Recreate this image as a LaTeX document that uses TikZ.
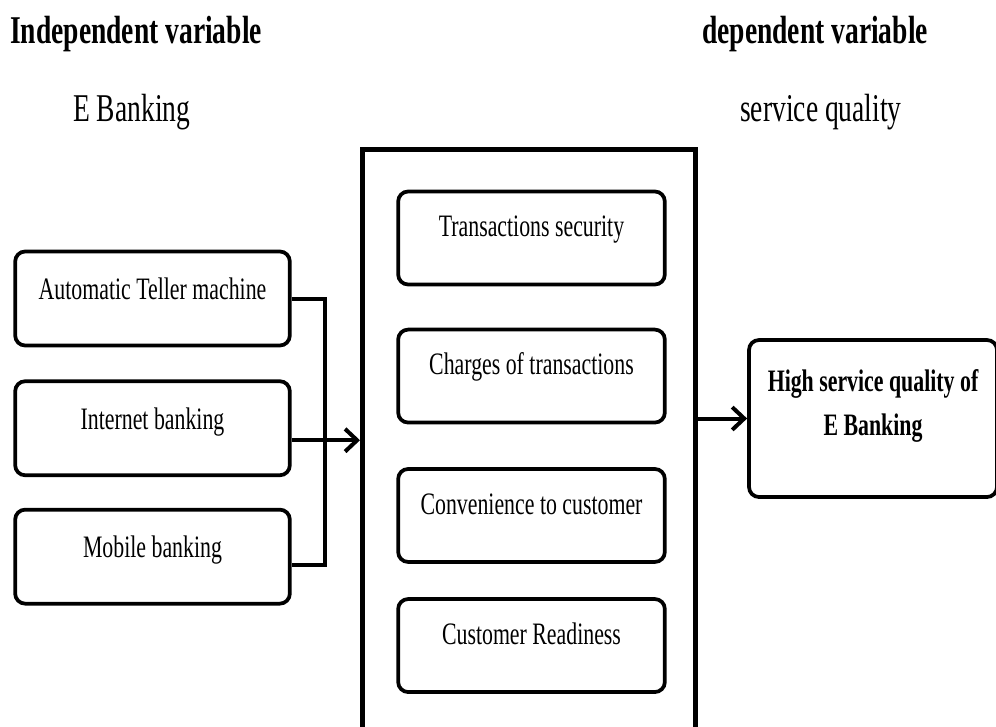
\documentclass[tikz,border=0pt]{standalone}
\usepackage{fontspec}
\setmainfont{Liberation Serif}[FakeStretch=0.70]
\usepackage{xcolor}
\definecolor{lineDark}{HTML}{000000}
\usepackage{tikz}
\usetikzlibrary{positioning,calc,arrows.meta}
\newcommand{\boxFont}{\fontsize{23.4pt}{33pt}\selectfont}
\newcommand{\headFont}{\fontsize{29.5pt}{36pt}\selectfont}
\tikzset{
  varBox/.style={
    rectangle,
    rounded corners=7.5pt,
    draw=lineDark,
    line width=2.8pt,
    minimum width=206pt,
    inner xsep=0pt,
    inner ysep=0pt,
    text height=36pt,
    text depth=34.5pt,
    font=\boxFont,
    align=center
 },
  factorBox/.style={
    varBox,
    minimum width=200pt,
    text height=34pt,
    text depth=35.75pt
 },
  resultBox/.style={
    varBox,
    minimum width=186pt,
    text height=71.25pt,
    text depth=46.5pt,
    font=\boxFont\bfseries
 },
  frameBox/.style={
    rectangle,
    draw=lineDark,
    line width=4pt,
    minimum width=249.75pt,
    minimum height=450pt
 },
  headText/.style={
    font=\headFont,
    inner sep=0pt,
    anchor=base west
 },
  linkLine/.style={
    line width=3pt,
    color=lineDark
 },
  arrowLine/.style={
    linkLine,
    -{Straight Barb[length=9pt,width=17pt]}
 }
}

\begin{document}
\begin{tikzpicture}[x=0.75pt,y=-0.75pt]
            \useasboundingbox (0,0) rectangle (996,726);
            \clip (0,0) rectangle (996,726);
            % headings
            \node[headText, font=\headFont\bfseries] (indep) at (10,43) {Independent variable};
            \node[headText] (ebank) at (73,121) {E Banking};
            \node[headText, font=\headFont\bfseries] (dep) at (702,43) {dependent variable};
            \node[headText] (servq) at (740,121) {service quality};

            % E banking channels
            \node[varBox] (atm) at (152.5,298.5) {Automatic Teller machine};
            \node[varBox, below=24pt of atm] (inet) {Internet banking};
            \node[varBox, below=23pt of inet] (mob) {Mobile banking};

            % service quality factors
            \node[frameBox, anchor=north west] (frame) at (360,147) {};
            \node[factorBox] (tsec) at (531.5,238) {Transactions security};
            \node[factorBox, below=31pt of tsec] (chrg) {Charges of transactions};
            \node[factorBox, below=32pt of chrg] (conv) {Convenience to customer};
            \node[factorBox, below=25pt of conv] (ready) {Customer Readiness};

            % outcome
            \node[resultBox] (hsq) at (873,418.5) {High service quality of\\E Banking};

            \coordinate (bus) at (325,0);
            \draw[linkLine] (atm.east) -- (atm.east -| bus) |- ([yshift=-6pt]mob.east);
            \draw[arrowLine] ([yshift=-9pt]inet.east) -- ([yshift=-9pt]inet.east -| frame.west);
            \draw[arrowLine] (frame.east |- hsq.west) -- (hsq.west);
        \end{tikzpicture}
\end{document}
